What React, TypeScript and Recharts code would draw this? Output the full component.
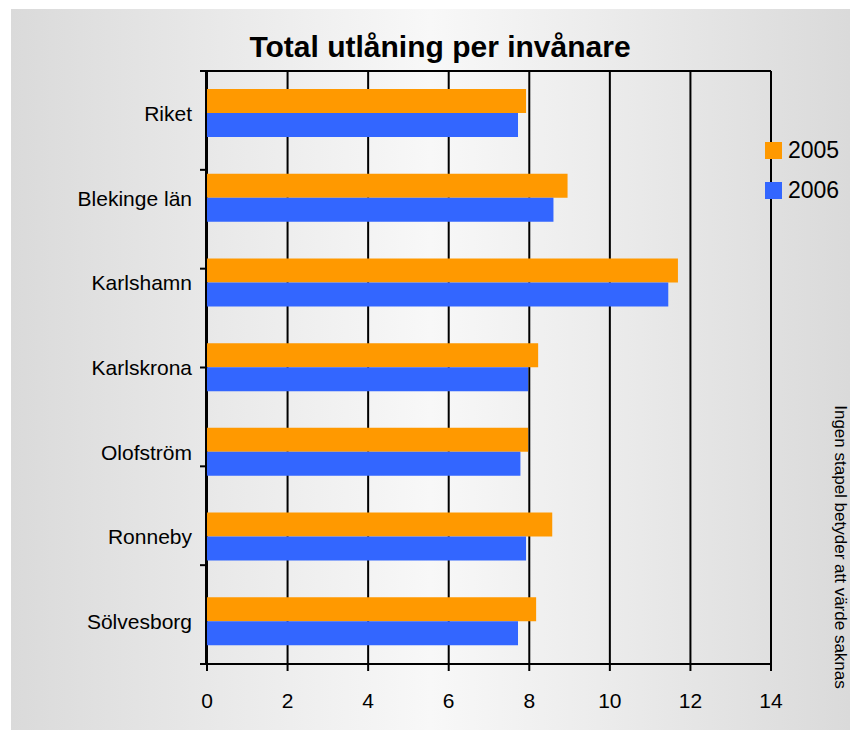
import { BarChart, Bar, XAxis, YAxis, CartesianGrid, Legend } from "recharts"

const categories = ["Riket", "Blekinge län", "Karlshamn", "Karlskrona", "Olofström", "Ronneby", "Sölvesborg"]
const values2005 = [7.92, 8.95, 11.69, 8.22, 7.97, 8.57, 8.17]
const values2006 = [7.72, 8.6, 11.45, 7.97, 7.78, 7.92, 7.72]
const xTicks = [0, 2, 4, 6, 8, 10, 12, 14]
const bandEdges = [0, 1, 2, 3, 4, 5, 6, 7]

const data = categories.map((name, i) => ({ name, y2005: values2005[i], y2006: values2006[i] }))

const font = "'Liberation Sans', Arial, sans-serif"
const black = { stroke: "#000", strokeWidth: 2 }

const renderLegend = (props: any) => (
  <div style={{ fontFamily: font }}>
    {(props.payload || []).map((entry: any) => (
      <div key={entry.value} style={{ display: "flex", alignItems: "center", height: 40 }}>
        <span style={{ width: 17, height: 17, background: entry.color, marginRight: 6 }} />
        <span style={{ fontSize: 23, color: "#000", lineHeight: "23px" }}>{entry.value}</span>
      </div>
    ))}
  </div>
)

const emptyTick = () => <g />

export default function App() {
  return (
    <div style={{ paddingLeft: 11, paddingTop: 9, width: 839 }}>
      <style>{"html,body{margin:0;overflow:hidden}"}</style>
      <div
        style={{
          position: "relative",
          width: 839,
          height: 721,
          background: "linear-gradient(to right, #dadada 0%, #f8f8f8 50%, #dadada 100%)",
          fontFamily: font,
        }}
      >
        <BarChart
          width={839}
          height={721}
          data={data}
          layout="vertical"
          margin={{ top: 61, right: 79, left: 0, bottom: 0 }}
          barGap={0}
          barSize={24}
        >
          <CartesianGrid horizontal={false} stroke="#000" strokeWidth={2} />
          <XAxis
            type="number"
            domain={[0, 14]}
            ticks={xTicks}
            interval={0}
            height={66}
            tickSize={7}
            tickMargin={22}
            axisLine={black}
            tickLine={black}
            tick={{ fill: "#000", fontSize: 21, fontFamily: font }}
          />
          <XAxis
            xAxisId="top"
            orientation="top"
            type="number"
            domain={[0, 14]}
            height={1}
            tick={false}
            tickLine={false}
            axisLine={black}
          />
          <YAxis
            yAxisId="bCat"
            type="category"
            dataKey="name"
            width={195}
            interval={0}
            tickSize={6}
            tickMargin={8}
            tickLine={false}
            axisLine={black}
            tick={{ fill: "#000", fontSize: 21, fontFamily: font }}
          />
          <YAxis
            yAxisId="aEdge"
            type="number"
            domain={[0, 7]}
            ticks={bandEdges}
            interval={0}
            width={1}
            axisLine={false}
            tickLine={black}
            tickSize={7}
            tick={emptyTick}
          />
          <Legend
            layout="vertical"
            align="center"
            verticalAlign="middle"
            wrapperStyle={{ left: 754, top: 121, width: 85 }}
            content={renderLegend}
          />
          <Bar yAxisId="bCat" dataKey="y2005" name="2005" fill="#FF9900" isAnimationActive={false} />
          <Bar yAxisId="bCat" dataKey="y2006" name="2006" fill="#3366FF" isAnimationActive={false} />
        </BarChart>
        <svg
          width={839}
          height={721}
          style={{ position: "absolute", left: 0, top: 0, pointerEvents: "none" }}
        >
          <text x={429} y={48} textAnchor="middle" fontSize={30} fontWeight="bold" fill="#000" fontFamily={font}>
            Total utlåning per invånare
          </text>
          <text
            x={824}
            y={538}
            textAnchor="middle"
            fontSize={17}
            fill="#000"
            fontFamily={font}
            transform="rotate(90 824 538)"
          >
            Ingen stapel betyder att värde saknas
          </text>
        </svg>
      </div>
    </div>
  )
}
